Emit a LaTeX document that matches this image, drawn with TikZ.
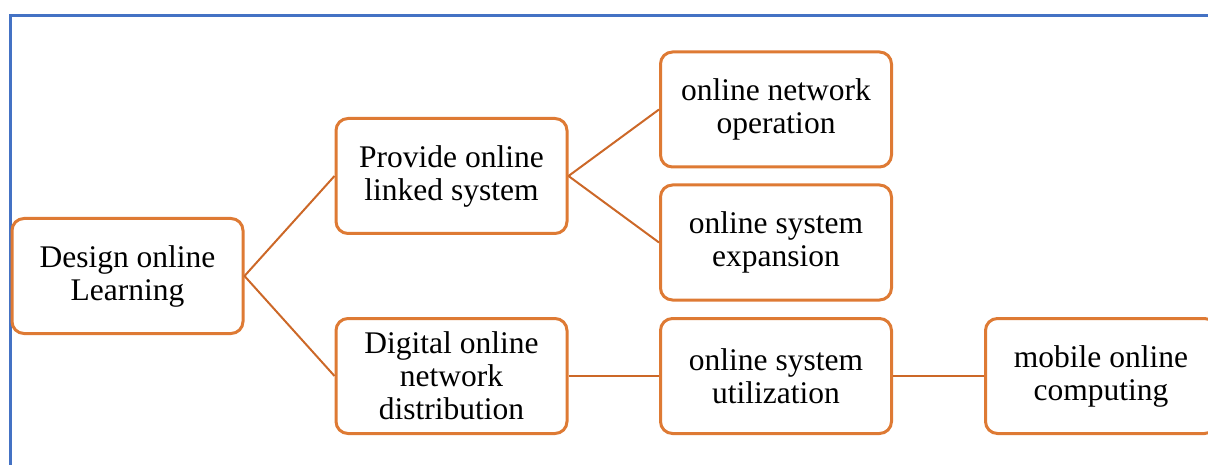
\documentclass[tikz,border=0pt]{standalone}
\usepackage{fontspec}
\setmainfont{Liberation Serif}
\definecolor{boxorange}{RGB}{222,122,52}
\definecolor{lineorange}{RGB}{204,104,40}
\definecolor{frameblue}{RGB}{68,114,196}
\begin{document}
\begin{tikzpicture}[x=1pt,y=-1pt,
  stepbox/.style={draw=boxorange, line width=3pt, rounded corners=12pt, fill=white,
    minimum width=231pt, minimum height=115pt, align=center, inner sep=0pt,
    font=\fontsize{31.5}{33}\selectfont},
  conn/.style={draw=lineorange, line width=2pt}]
\useasboundingbox (0,0) rectangle (1208,465);
\draw[frameblue, line width=3pt] (10,470) -- (10,16) -- (1215,16);
\node[stepbox] (design) at (127.5,276) {Design online\\Learning};
\node[stepbox] (provide) at (451.5,176) {Provide online\\linked system};
\node[stepbox] (digital) at (451.5,376) {Digital online\\network\\distribution};
\node[stepbox] (oper) at (776,109.5) {online network\\operation};
\node[stepbox] (expan) at (776,242.5) {online system\\expansion};
\node[stepbox] (util) at (776,376) {online system\\utilization};
\node[stepbox] (mobile) at (1101,376) {mobile online\\computing};
\draw[conn] (design.east) -- (provide.west);
\draw[conn] (design.east) -- (digital.west);
\draw[conn] (provide.east) -- (oper.west);
\draw[conn] (provide.east) -- (expan.west);
\draw[conn] (digital.east) -- (util.west);
\draw[conn] (util.east) -- (mobile.west);
\end{tikzpicture}
\end{document}
